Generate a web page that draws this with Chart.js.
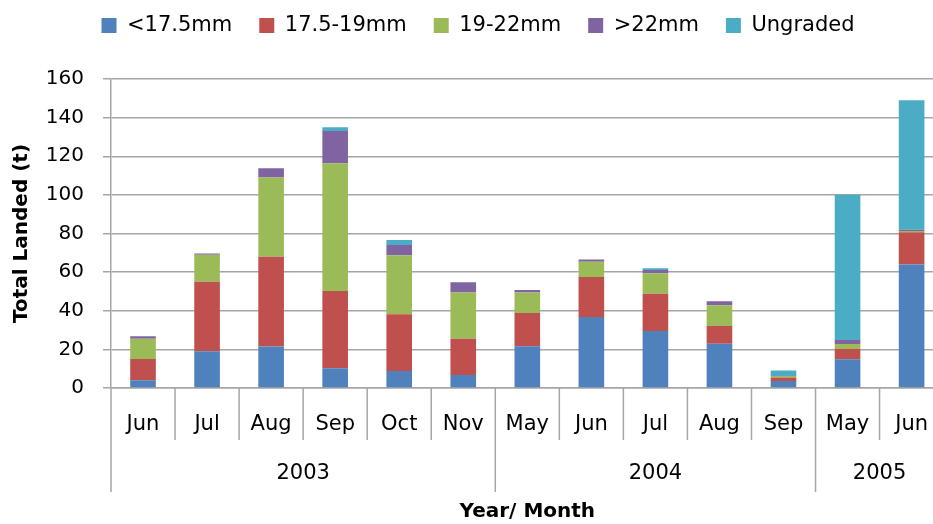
<!DOCTYPE html>
<html>
<head>
<meta charset="utf-8">
<script src="https://cdn.jsdelivr.net/npm/chart.js@4"></script>
<style>
  html, body { margin: 0; padding: 0; background: #fff; overflow: hidden; }
  #wrap { width: 952px; height: 524px; position: relative; }
</style>
</head>
<body>
<div id="wrap"><canvas id="chart"></canvas></div>
<script>
const months = ['Jun', 'Jul', 'Aug', 'Sep', 'Oct', 'Nov', 'May', 'Jun', 'Jul', 'Aug', 'Sep', 'May', 'Jun'];
const years = ['2003', '2004', '2005'];
const yearCounts = [6, 5, 2];

const under175 = [4, 19, 21.5, 10.2, 8.8, 6.7, 21.6, 36.8, 29.5, 22.9, 3.6, 14.9, 64];
const from175to19 = [11, 36, 46.5, 40, 29.4, 18.8, 17.2, 20.7, 19.3, 9.2, 1.9, 5.3, 16.6];
const from19to22 = [10.5, 14, 41, 66.2, 30.5, 23.9, 10.6, 7.9, 10.6, 10.7, 0.7, 2.6, 0.7];
const over22 = [1.3, 0.7, 4.8, 16.7, 5.3, 5.3, 1.3, 1.2, 1.7, 2.1, 0, 2.1, 0.7];
const ungraded = [0, 0, 0, 1.9, 2.6, 0, 0, 0, 0.9, 0, 2.8, 75.2, 67];

const font = "'DejaVu Sans', sans-serif";
const gridColor = '#a6a6a6';

// month separators + the year row under the axis
const yearRows = {
    id: 'yearRows',
    afterInit(chart) {
        // leave the gap between legend and plot that the original has
        const lg = chart.legend;
        const fit = lg.fit.bind(lg);
        lg.fit = function () { fit(); this.height = 91; };
        const draw = lg.draw.bind(lg);
        lg.draw = function () {
            this.ctx.save();
            this.ctx.translate(2, 0);
            draw();
            this.ctx.restore();
        };
    },
    afterDraw(chart) {
        const ctx = chart.ctx;
        const x = chart.scales.x;
        const bottom = chart.chartArea.bottom;
        const half = (x.getPixelForValue(1) - x.getPixelForValue(0)) / 2;
        const bounds = [0];
        yearCounts.forEach(c => bounds.push(bounds[bounds.length - 1] + c));
        ctx.save();
        ctx.strokeStyle = gridColor;
        ctx.lineWidth = 1.5;
        for (let i = 0; i <= months.length; i++) {
            const px = x.getPixelForValue(i) - half;
            const long = bounds.includes(i);
            ctx.beginPath();
            ctx.moveTo(px, bottom);
            ctx.lineTo(px, bottom + (long ? 104 : 52));
            ctx.stroke();
        }
        ctx.fillStyle = '#000';
        ctx.font = '21px ' + font;
        ctx.textAlign = 'center';
        ctx.textBaseline = 'middle';
        years.forEach((y, k) => {
            const a = x.getPixelForValue(bounds[k]) - half;
            const b = x.getPixelForValue(bounds[k + 1]) - half;
            ctx.fillText(y, (a + b) / 2, bottom + 86);
        });
        ctx.restore();
    }
};

const colors = ['#4F81BD', '#C0504D', '#9BBB59', '#8064A2', '#4BACC6'];
const names = ['<17.5mm', '17.5-19mm', '19-22mm', '>22mm', 'Ungraded'];
const series = [under175, from175to19, from19to22, over22, ungraded];

new Chart(document.getElementById('chart'), {
    type: 'bar',
    data: {
        labels: months,
        datasets: series.map((d, i) => ({
            label: names[i],
            data: d,
            backgroundColor: colors[i],
            borderWidth: 0,
            barPercentage: 0.8,
            categoryPercentage: 0.5
        }))
    },
    options: {
        responsive: true,
        maintainAspectRatio: false,
        animation: false,
        layout: { padding: { top: -12, left: 0, right: 0, bottom: 0 } },
        plugins: {
            legend: {
                position: 'top',
                labels: {
                    color: '#000',
                    font: { family: font, size: 21 },
                    boxWidth: 15,
                    boxHeight: 15,
                    padding: 27
                }
            },
            tooltip: { enabled: false }
        },
        scales: {
            x: {
                stacked: true,
                grid: { display: false, drawTicks: false },
                border: { color: gridColor, width: 1.5 },
                ticks: { color: '#000', font: { family: font, size: 21 }, padding: 24, maxRotation: 0, autoSkip: false },
                title: { display: true, text: 'Year/ Month', color: '#000', font: { family: font, size: 20, weight: 'bold' }, padding: 0 },
                afterFit(scale) { scale.height = 136; }
            },
            y: {
                stacked: true,
                min: 0,
                max: 160,
                ticks: { stepSize: 20, color: '#000', font: { family: font, size: 20 }, padding: 19 },
                grid: { color: gridColor, lineWidth: 1.5, tickLength: 8 },
                border: { color: gridColor, width: 1.5 },
                title: { display: true, text: 'Total Landed (t)', color: '#000', font: { family: font, size: 20, weight: 'bold' }, padding: { top: 10, bottom: 0 } },
                afterFit(scale) { scale.width = 111; }
            }
        }
    },
    plugins: [yearRows]
});
</script>
</body>
</html>
